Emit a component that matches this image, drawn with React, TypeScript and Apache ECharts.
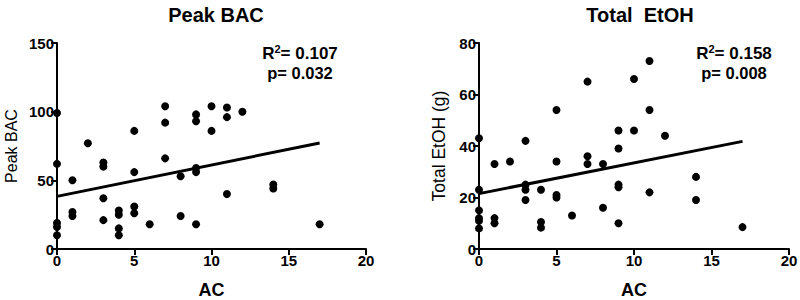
import React, { useEffect, useRef } from "react";
import * as echarts from "echarts";

// Peak BAC vs AC
const bacPoints: [number, number][] = [
  [0, 99], [0, 62], [0, 19], [0, 16], [0, 10],
  [1, 50], [1, 27], [1, 24],
  [2, 77],
  [3, 63], [3, 60], [3, 37], [3, 21],
  [4, 28], [4, 25], [4, 15], [4, 10],
  [5, 86], [5, 56], [5, 31], [5, 26],
  [6, 18],
  [7, 104], [7, 92], [7, 66],
  [8, 53], [8, 24],
  [9, 98], [9, 93], [9, 59], [9, 56], [9, 18],
  [10, 104], [10, 86],
  [11, 103], [11, 96], [11, 40],
  [12, 100],
  [14, 47], [14, 44],
  [17, 18],
];
const bacFit: [number, number][] = [[0, 38.3], [17, 77.2]];

// Total EtOH vs AC
const etohPoints: [number, number][] = [
  [0, 43], [0, 23], [0, 15], [0, 12], [0, 11], [0, 8],
  [1, 33], [1, 12], [1, 10],
  [2, 34],
  [3, 42], [3, 25], [3, 23], [3, 19],
  [4, 23], [4, 10.5], [4, 8.3],
  [5, 54], [5, 34], [5, 21], [5, 20],
  [6, 13],
  [7, 65], [7, 36], [7, 33],
  [8, 33], [8, 16],
  [9, 46], [9, 39], [9, 25], [9, 24], [9, 10],
  [10, 66], [10, 46],
  [11, 73], [11, 54], [11, 22],
  [12, 44],
  [14, 28], [14, 19],
  [17, 8.5],
];
const etohFit: [number, number][] = [[0, 21.5], [17, 41.8]];

const titles = ["Peak BAC", "Total  EtOH"];
const yNames = ["Peak BAC", "Total EtOH (g)"];
const xName = "AC";
const stats = [
  ["0.107", "0.032"],
  ["0.158", "0.008"],
];

const FONT = "Liberation Sans, Arial, sans-serif";

export default function App() {
  const ref = useRef<HTMLDivElement>(null);
  useEffect(() => {
    document.body.style.margin = "0";
    const chart = echarts.init(ref.current!, null, { renderer: "svg" });
    const grids = [
      { left: 57, top: 43, width: 309, height: 206, outerBoundsMode: "none", containLabel: false },
      { left: 479, top: 43, width: 310, height: 206, outerBoundsMode: "none", containLabel: false },
    ];
    const axisCommon = {
      axisLine: { show: true, lineStyle: { color: "#000", width: 2 } },
      axisTick: { show: true, length: 6, lineStyle: { color: "#000", width: 2 } },
      splitLine: { show: false },
      axisLabel: { color: "#000", fontFamily: FONT, fontWeight: "bold", fontSize: 15 },
    };
    const xAxes = [0, 1].map((i) => ({
      type: "value",
      gridIndex: i,
      min: 0,
      max: 20,
      interval: 5,
      name: xName,
      nameLocation: "middle",
      nameGap: 32,
      nameTextStyle: { color: "#000", fontFamily: FONT, fontWeight: "bold", fontSize: 18 },
      ...axisCommon,
      axisLabel: { ...axisCommon.axisLabel, margin: 4 },
    }));
    const yAxes = [
      { max: 150, interval: 50, gap: 38 },
      { max: 80, interval: 20, gap: 31 },
    ].map((a, i) => ({
      type: "value",
      gridIndex: i,
      min: 0,
      max: a.max,
      interval: a.interval,
      name: yNames[i],
      nameLocation: "middle",
      nameGap: a.gap,
      nameTextStyle: { color: "#000", fontFamily: FONT, fontSize: i === 0 ? 16 : 17.5 },
      ...axisCommon,
      axisLabel: { ...axisCommon.axisLabel, margin: 3 },
    }));
    const points = [bacPoints, etohPoints];
    const fits = [bacFit, etohFit];
    const series: any[] = [];
    [0, 1].forEach((i) => {
      series.push({
        type: "scatter",
        xAxisIndex: i,
        yAxisIndex: i,
        data: points[i],
        symbolSize: 8,
        itemStyle: { color: "#000", opacity: 1 },
      });
      series.push({
        type: "line",
        xAxisIndex: i,
        yAxisIndex: i,
        data: fits[i],
        symbol: "none",
        lineStyle: { color: "#000", width: 3 },
      });
    });
    const statPos = [300, 734];
    const graphic: any[] = [];
    [0, 1].forEach((i) => {
      graphic.push({
        type: "text",
        x: statPos[i],
        y: 53,
        style: {
          text: `{a|R}{b|2}{a|= ${stats[i][0]}}`,
          align: "center",
          verticalAlign: "middle",
          rich: {
            a: { fontFamily: FONT, fontSize: 17, fontWeight: "bold", fill: "#000" },
            b: { fontFamily: FONT, fontSize: 11, fontWeight: "bold", fill: "#000", verticalAlign: "top", padding: [0, 0, 9, 0] },
          },
        },
      });
      graphic.push({
        type: "text",
        x: statPos[i],
        y: 73,
        style: {
          text: `p= ${stats[i][1]}`,
          align: "center",
          verticalAlign: "middle",
          fontFamily: FONT,
          fontSize: 16.5,
          fontWeight: "bold",
          fill: "#000",
        },
      });
    });
    chart.setOption({
      animation: false,
      backgroundColor: "#fff",
      title: [
        {
          text: titles[0],
          left: 211,
          top: 0,
          textAlign: "center",
          textStyle: { color: "#000", fontFamily: FONT, fontWeight: "bold", fontSize: 20 },
        },
        {
          text: titles[1],
          left: 635,
          top: 0,
          textAlign: "center",
          textStyle: { color: "#000", fontFamily: FONT, fontWeight: "bold", fontSize: 20 },
        },
      ],
      grid: grids,
      xAxis: xAxes,
      yAxis: yAxes,
      series,
      graphic,
    });
    return () => chart.dispose();
  }, []);
  return <div ref={ref} style={{ width: 800, height: 300 }} />;
}
